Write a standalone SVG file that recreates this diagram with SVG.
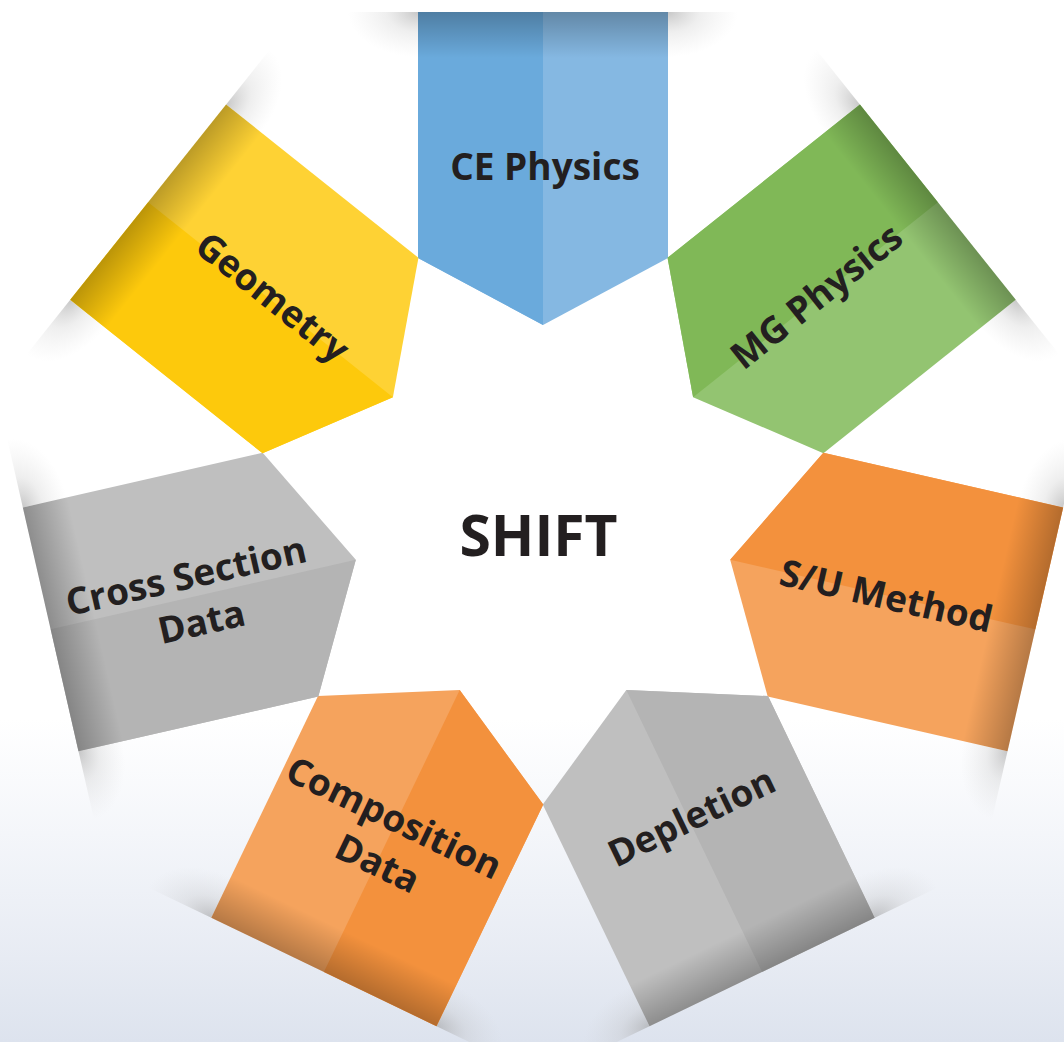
<svg xmlns="http://www.w3.org/2000/svg" width="1064" height="1042" viewBox="0 0 1064 1042">
  <defs>
    <linearGradient id="bg" x1="0" y1="0" x2="0" y2="1">
      <stop offset="0" stop-color="#ffffff"/>
      <stop offset="0.69" stop-color="#ffffff"/>
      <stop offset="0.80" stop-color="#f4f6fa"/>
      <stop offset="0.92" stop-color="#e7ebf3"/>
      <stop offset="1" stop-color="#dde3ee"/>
    </linearGradient>
    <linearGradient id="edge" x1="0" y1="0" x2="0" y2="1">
      <stop offset="0" stop-color="#000000" stop-opacity="0.26"/>
      <stop offset="1" stop-color="#000000" stop-opacity="0"/>
    </linearGradient>
    <radialGradient id="shR" cx="0" cy="0" r="1" fx="0" fy="0">
      <stop offset="0" stop-color="#9a9a9a" stop-opacity="0.55"/>
      <stop offset="0.45" stop-color="#b4b4b4" stop-opacity="0.22"/>
      <stop offset="1" stop-color="#c8c8c8" stop-opacity="0"/>
    </radialGradient>
    <radialGradient id="shL" cx="1" cy="0" r="1" fx="1" fy="0">
      <stop offset="0" stop-color="#9a9a9a" stop-opacity="0.55"/>
      <stop offset="0.45" stop-color="#b4b4b4" stop-opacity="0.22"/>
      <stop offset="1" stop-color="#c8c8c8" stop-opacity="0"/>
    </radialGradient>
    <g id="wedgeShadow">
      <rect x="348" y="12" width="70" height="45" fill="url(#shL)"/>
      <rect x="668" y="12" width="70" height="45" fill="url(#shR)"/>
    </g>
    <polygon id="halfL" points="418,12 543,12 543,325 418,258"/>
    <polygon id="full" points="418,12 668,12 668,258 543,325 418,258"/>
    <rect id="edgeShade" x="418" y="12" width="250" height="46" fill="url(#edge)"/>
  </defs>
  <style>
    .lbl { font-family: "Open Sans", "Noto Sans", "DejaVu Sans", sans-serif; font-weight: 700; font-size: 37px; fill: #231f20; text-anchor: middle; }
    .title { font-family: "Open Sans", "Noto Sans", "DejaVu Sans", sans-serif; font-weight: 700; font-size: 57px; fill: #231f20; text-anchor: middle; }
    .blue .a { fill: #6aaadc; } .blue .b { fill: #85b8e2; }
    .yellow .a { fill: #fdc90c; } .yellow .b { fill: #fed234; }
    .green .a { fill: #80b857; } .green .b { fill: #93c471; }
    .orange .a { fill: #f3913d; } .orange .b { fill: #f5a35d; }
    .grey .a { fill: #b4b4b4; } .grey .b { fill: #bfbfbf; }
  </style>

  <rect x="0" y="0" width="1064" height="1042" fill="url(#bg)"/>

  <g id="shadows">
    <use href="#wedgeShadow" transform="rotate(0 543 517)"/>
    <use href="#wedgeShadow" transform="rotate(51.4286 543 517)"/>
    <use href="#wedgeShadow" transform="rotate(102.8571 543 517)"/>
    <use href="#wedgeShadow" transform="rotate(154.2857 543 517)"/>
    <use href="#wedgeShadow" transform="rotate(205.7143 543 517)"/>
    <use href="#wedgeShadow" transform="rotate(257.1429 543 517)"/>
    <use href="#wedgeShadow" transform="rotate(308.5714 543 517)"/>
  </g>

  <g id="connectors"/>

  <g id="node-ce-physics" class="blue">
    <g transform="rotate(0 543 517)">
      <use href="#full" class="b"/>
      <use href="#halfL" class="a"/>
      <use href="#edgeShade"/>
    </g>
    <text class="lbl" x="545" y="180">CE Physics</text>
  </g>

  <g id="node-mg-physics" class="green">
    <g transform="rotate(51.4286 543 517)">
      <use href="#full" class="b"/>
      <use href="#halfL" class="a"/>
      <use href="#edgeShade"/>
    </g>
    <text class="lbl" transform="translate(817 297) rotate(-38.57)" x="0" y="12">MG Physics</text>
  </g>

  <g id="node-su-method" class="orange">
    <g transform="rotate(102.8571 543 517)">
      <use href="#full" class="b"/>
      <use href="#halfL" class="a"/>
      <use href="#edgeShade"/>
    </g>
    <text class="lbl" transform="translate(886 597) rotate(12.86)" x="0" y="12">S/U Method</text>
  </g>

  <g id="node-depletion" class="grey">
    <g transform="rotate(154.2857 543 517)">
      <use href="#full" class="b"/>
      <use href="#halfL" class="a"/>
      <use href="#edgeShade"/>
    </g>
    <text class="lbl" transform="translate(692 818) rotate(-25.71)" x="0" y="12">Depletion</text>
  </g>

  <g id="node-composition-data" class="orange">
    <g transform="rotate(205.7143 543 517)">
      <use href="#full" class="b"/>
      <use href="#halfL" class="a"/>
      <use href="#edgeShade"/>
    </g>
    <text class="lbl" transform="translate(398 821) rotate(25.71)">
      <tspan x="0" y="12">Composition</tspan>
      <tspan x="0" y="60">Data</tspan>
    </text>
  </g>

  <g id="node-cross-section-data" class="grey">
    <g transform="rotate(257.1429 543 517)">
      <use href="#full" class="b"/>
      <use href="#halfL" class="a"/>
      <use href="#edgeShade"/>
    </g>
    <text class="lbl" transform="translate(191 576) rotate(-12.86)">
      <tspan x="0" y="12">Cross Section</tspan>
      <tspan x="0" y="60">Data</tspan>
    </text>
  </g>

  <g id="node-geometry" class="yellow">
    <g transform="rotate(308.5714 543 517)">
      <use href="#full" class="b"/>
      <use href="#halfL" class="a"/>
      <use href="#edgeShade"/>
    </g>
    <text class="lbl" transform="translate(272 298) rotate(38.57)" x="0" y="12">Geometry</text>
  </g>

  <g id="node-shift">
    <text class="title" x="538.5" y="556">SHIFT</text>
  </g>
</svg>
